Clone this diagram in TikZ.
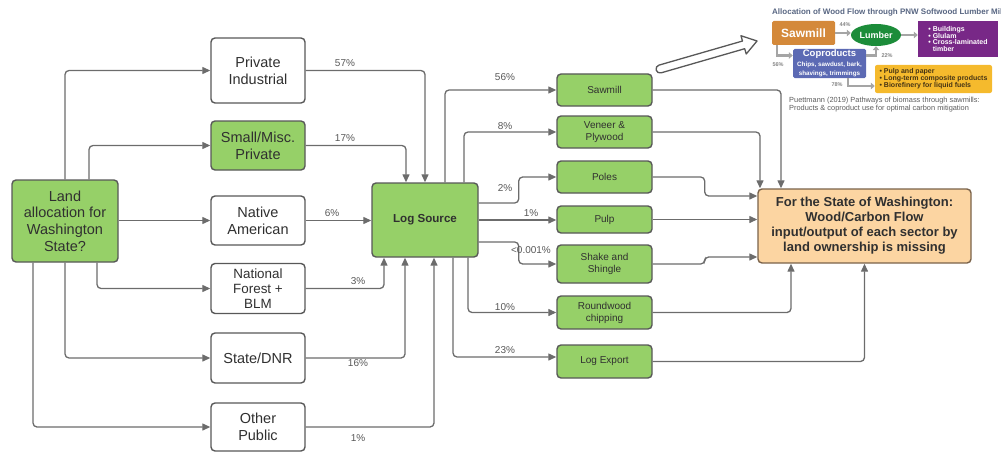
\documentclass[tikz,border=0pt]{standalone}
\usepackage{fontspec}
\setmainfont{Liberation Sans}
\usetikzlibrary{arrows.meta,shapes.geometric,calc}
\definecolor{boxgreen}{RGB}{150,208,104}
\definecolor{boxline}{RGB}{88,88,88}
\definecolor{arrgrey}{RGB}{108,108,108}
\definecolor{txt}{RGB}{48,48,48}
\definecolor{pctgrey}{RGB}{88,88,88}
\definecolor{outfill}{RGB}{252,213,162}
\definecolor{outline}{RGB}{122,98,74}
\definecolor{insaw}{RGB}{212,137,58}
\definecolor{inlum}{RGB}{28,140,58}
\definecolor{inpur}{RGB}{120,40,135}
\definecolor{incop}{RGB}{92,106,180}
\definecolor{inyel}{RGB}{245,186,45}
\definecolor{inarr}{RGB}{165,165,165}
\definecolor{intitle}{RGB}{88,102,130}
\definecolor{incap}{RGB}{92,92,92}
\definecolor{inyeltxt}{RGB}{70,52,20}
\newcommand{\smallcop}{\fontsize{6.3}{6.5}\selectfont}
\tikzset{
  box/.style={draw=boxline, line width=1.4pt, rounded corners=4pt, align=center,
    inner sep=2pt, text=txt, font=\fontsize{14.5}{16.7}\selectfont},
  wbox/.style={box, fill=white, minimum width=94pt},
  gbox/.style={box, fill=boxgreen},
  rbox/.style={box, fill=boxgreen, minimum width=95pt, font=\fontsize{10}{12}\selectfont},
  arr/.style={draw=arrgrey, line width=1.3pt, rounded corners=4pt,
    -{Triangle[length=8pt,width=7pt]}},
  pct/.style={text=pctgrey, font=\fontsize{10}{12}\selectfont, inner sep=0pt},
  iarr/.style={draw=inarr, line width=2.6pt, -{Triangle[length=4pt,width=6.5pt]}},
  ipct/.style={text=inarr!80!black, font=\bfseries\fontsize{5.5}{6}\selectfont, inner sep=0pt},
}
\begin{document}
\begin{tikzpicture}[x=1pt,y=-1pt]
\useasboundingbox (0,0) rectangle (1001,452);

% ---------- left: land ownership ----------
\node[gbox, minimum width=106pt, minimum height=82pt] (land) at (65,221)
  {Land\\allocation for\\Washington\\State?};
\node[wbox, minimum height=65pt] (pi) at (258,70.5) {Private\\Industrial};
\node[gbox, minimum width=94pt, minimum height=49pt] (sm) at (258,145.5) {Small/Misc.\\Private};
\node[wbox, minimum height=49pt] (na) at (258,220.5) {Native\\American};
\node[wbox, minimum height=50pt, font=\fontsize{13.4}{15}\selectfont] (nf) at (258,288.5)
  {National\\Forest +\\BLM};
\node[wbox, minimum height=50pt] (st) at (258,358) {State/DNR};
\node[wbox, minimum height=48pt] (op) at (258,427) {Other\\Public};

% ---------- log source ----------
\node[gbox, minimum width=106pt, minimum height=74pt, font=\bfseries\fontsize{11.6}{14}\selectfont]
  (log) at (425,220) {Log Source};

% ---------- sectors ----------
\node[rbox, minimum height=32pt] (saw) at (604.5,90) {Sawmill};
\node[rbox, minimum height=32pt] (ven) at (604.5,132) {Veneer \&\\Plywood};
\node[rbox, minimum height=32pt] (pol) at (604.5,177) {Poles};
\node[rbox, minimum height=27pt] (pul) at (604.5,219.5) {Pulp};
\node[rbox, minimum height=38pt] (sha) at (604.5,264) {Shake and\\Shingle};
\node[rbox, minimum height=33pt] (rw) at (604.5,312.5) {Roundwood\\chipping};
\node[rbox, minimum height=33pt] (le) at (604.5,361.5) {Log Export};

% ---------- result ----------
\node[box, fill=outfill, draw=outline, minimum width=213pt, minimum height=74pt,
  font=\bfseries\fontsize{13}{15}\selectfont] (out) at (864.5,226)
  {For the State of Washington:\\Wood/Carbon Flow\\input/output of each sector by\\land ownership is missing};

% ---------- connectors: land -> owners ----------
\draw[arr] (land.north) |- (pi.west);
\draw[arr] ([xshift=24pt]land.north) |- (sm.west);
\draw[arr] (land.east |- na.west) -- (na.west);
\draw[arr] ([xshift=32pt]land.south) |- (nf.west);
\draw[arr] (land.south) |- (st.west);
\draw[arr] ([xshift=-32pt]land.south) |- (op.west);

% ---------- owners -> log source ----------
\draw[arr] (pi.east) -| (log.north);
\draw[arr] (sm.east) -| ([xshift=-19pt]log.north);
\draw[arr] (na.east) -- (log.west |- na.east);
\draw[arr] (nf.east) -| ([xshift=-41pt]log.south);
\draw[arr] (st.east) -| ([xshift=-20pt]log.south);
\draw[arr] (op.east) -| ([xshift=9pt]log.south);

\node[pct] (p57) at (345,63) {57\%};
\node[pct] (p17) at (345,138) {17\%};
\node[pct] (p6) at (332,213) {6\%};
\node[pct] (p3) at (358,281) {3\%};
\node[pct] (p16) at (358,363) {16\%};
\node[pct] (p1a) at (358,438) {1\%};

% ---------- log source -> sectors ----------
\draw[arr] ([xshift=20pt]log.north) |- (saw.west);
\draw[arr] ([xshift=39pt]log.north) |- (ven.west);
\draw[arr] ([yshift=17pt]log.east) -- ++(40,0) |- (pol.west);
\draw[arr] ([xshift=0.7pt]log.east) -- (log.east -| pul.west);
\draw[arr] ([yshift=-22pt]log.east) -- ++(40,0) |- (sha.west);
\draw[arr] ([xshift=43pt]log.south) |- (rw.west);
\draw[arr] ([xshift=28pt]log.south) |- ([yshift=4.5pt]le.west);

\node[pct] (p56) at (505,77) {56\%};
\node[pct] (p8) at (505,126) {8\%};
\node[pct] (p2) at (505,188) {2\%};
\node[pct] (p1b) at (531,213) {1\%};
\node[pct] (p0) at (531,250.5) {<0.001\%};
\node[pct] (p10) at (505,307) {10\%};
\node[pct] (p23) at (505,350) {23\%};

% ---------- sectors -> result ----------
\draw[arr] (saw.east) -| ([xshift=-83.5pt]out.north);
\draw[arr] (ven.east) -| ([xshift=-104.5pt]out.north);
\draw[arr] (pol.east) -- ++(52,0) |- ([yshift=30pt]out.west);
\draw[arr] (pul.east) -- (pul.east -| out.west);
\draw[arr] (sha.east) -- ++(52,0) |- ([yshift=-31pt]out.west);
\draw[arr] (rw.east) -| ([xshift=-73.5pt]out.south);
\draw[arr] (le.east) -| (out.south);

% ---------- hollow pointer arrow ----------
\begin{scope}[shift={(660,69)}, rotate=16.1]
  \draw[draw=boxline, line width=1.3pt, fill=white, line join=round]
    (0,4) -- (87,4) -- (87,9.5) -- (101,0) -- (87,-9.5) -- (87,-4) -- (0,-4)
    arc[start angle=90, end angle=270, radius=4pt] -- cycle;
\end{scope}

% ---------- inset figure ----------
\node[anchor=west, text=intitle, font=\bfseries\fontsize{8}{9}\selectfont, inner sep=0pt]
  (ititle) at (772,12) {Allocation of Wood Flow through PNW Softwood Lumber Mil};
\node[fill=insaw, rounded corners=1.5pt, minimum width=63pt, minimum height=24pt, inner sep=0pt,
  text=white, font=\bfseries\fontsize{12}{12}\selectfont] (isaw) at (803.5,33) {Sawmill};
\node[ellipse, fill=inlum, minimum width=50pt, minimum height=22pt, inner sep=0pt,
  text=white, font=\bfseries\fontsize{9}{9}\selectfont] (ilum) at (876,35) {Lumber};
\node[fill=inpur, minimum width=80pt, minimum height=36pt, inner sep=0pt, align=left,
  text=white, font=\bfseries\fontsize{7}{6.8}\selectfont] (ipur) at (958,39)
  {\textbullet\ Buildings\\\textbullet\ Glulam\\\textbullet\ Cross-laminated\\\phantom{\textbullet\ }timber};
\node[fill=incop, rounded corners=1.5pt, minimum width=73pt, minimum height=29pt, inner sep=0pt,
  align=center, text=white, font=\bfseries\fontsize{9.5}{9.5}\selectfont] (icop) at (829.5,63.5)
  {Coproducts\\\smallcop Chips, sawdust, bark,\\\smallcop shavings, trimmings};
\node[fill=inyel, rounded corners=2pt, minimum width=117pt, minimum height=28pt, inner sep=0pt,
  align=left, text=inyeltxt, font=\bfseries\fontsize{7}{7}\selectfont] (iyel) at (933.5,79)
  {\textbullet\ Pulp and paper\\\textbullet\ Long-term composite products\\\textbullet\ Biorefinery for liquid fuels};

\draw[iarr] (isaw.east) -- (isaw.east -| ilum.west);
\draw[iarr] (ilum.east) -- (ilum.east -| ipur.west);
\draw[iarr] ([xshift=-26.5pt]isaw.south) |- ([yshift=8pt]icop.west);
\draw[iarr] ([yshift=8pt]icop.east) -| (ilum.south);
\draw[iarr] ([xshift=18.5pt]icop.south) |- ([yshift=-7pt]iyel.west);

\node[ipct] (i44) at (845,25) {44\%};
\node[ipct] (i56) at (778,65) {56\%};
\node[ipct] (i22) at (887,56) {22\%};
\node[ipct] (i78) at (837,85) {78\%};

\node[anchor=north west, align=left, text=incap, font=\fontsize{7.4}{8}\selectfont, inner sep=0pt]
  (icap) at (789,96.5) {Puettmann (2019) Pathways of biomass through sawmills:\\Products \& coproduct use for optimal carbon mitigation};
\end{tikzpicture}
\end{document}
